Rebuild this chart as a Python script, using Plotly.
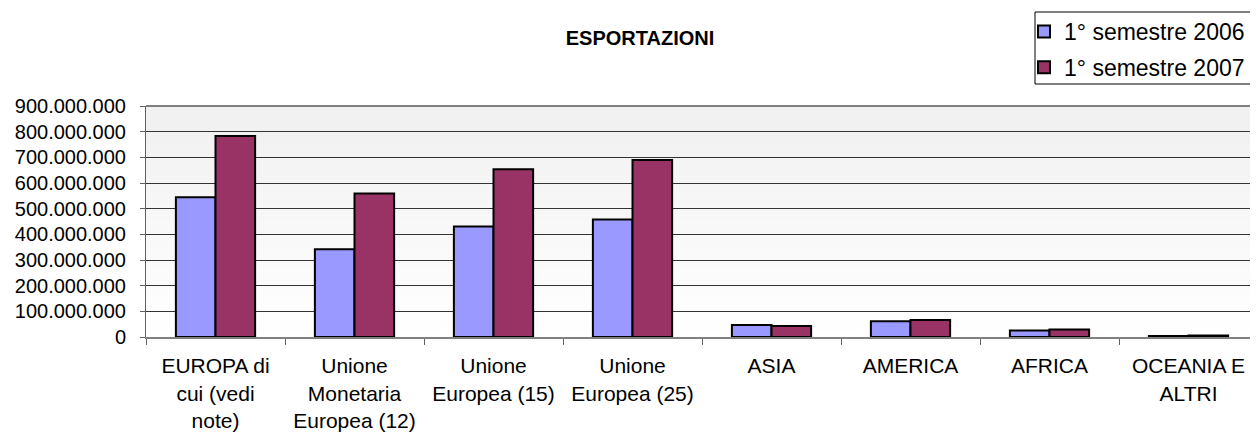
import plotly.graph_objects as go

categories = [
    "EUROPA di<br>cui (vedi<br>note)",
    "Unione<br>Monetaria<br>Europea (12)",
    "Unione<br>Europea (15)",
    "Unione<br>Europea (25)",
    "ASIA",
    "AMERICA",
    "AFRICA",
    "OCEANIA E<br>ALTRI",
]
series_names = ["1° semestre 2006", "1° semestre 2007"]
values_2006 = [544e6, 342e6, 431e6, 458e6, 47e6, 61e6, 25e6, 4e6]
values_2007 = [783e6, 559e6, 654e6, 690e6, 43e6, 66e6, 29e6, 6e6]
y_ticks = list(range(0, 900_000_001, 100_000_000))

FONT = "Arial, Liberation Sans, sans-serif"
colors = ["#9999FF", "#993366"]

# page has an 8px body margin: figure is drawn 8px in from the top-left
W, H = 1250, 425
OFF = 8

fig = go.Figure()
for i, (name, vals) in enumerate(zip(series_names, [values_2006, values_2007])):
    fig.add_trace(go.Bar(
        x=categories, y=vals, name=name,
        marker=dict(color=colors[i], line=dict(color="black", width=2)),
        legendgroup=f"g{i}",
    ))

# gradient plot background (light gray at top fading to white at bottom)
n = 40
shapes = []
for k in range(n):
    y0 = k / n
    y1 = (k + 1) / n
    c = int(round(255 - 15 * ((k + 0.5) / n)))
    shapes.append(dict(type="rect", xref="x domain", yref="y domain",
                       x0=0, x1=1, y0=y0, y1=y1 + 0.001,
                       fillcolor=f"rgb({c},{c},{c})", line=dict(width=0), layer="below"))
shapes.append(dict(type="line", xref="x domain", yref="y domain",
                   x0=0, x1=1, y0=1, y1=1, line=dict(color="#808080", width=2), layer="above"))

plot_l, plot_t, plot_b = 146 - OFF, 106 - OFF, 337 - OFF
plot_w = W - plot_l
plot_h = plot_b - plot_t
def px_x(x):
    return (x - OFF - plot_l) / plot_w
def px_y(y):
    return (plot_b - (y - OFF)) / plot_h
# legend frame
shapes.append(dict(type="rect", xref="paper", yref="paper",
                   x0=px_x(1035), x1=px_x(1300), y0=px_y(84), y1=px_y(12),
                   line=dict(color="black", width=1), fillcolor="white", layer="below"))

fig.update_layout(
    width=W, height=H,
    margin=dict(l=plot_l, r=0, t=plot_t, b=H - plot_b, autoexpand=False),
    paper_bgcolor="white", plot_bgcolor="white",
    font=dict(family=FONT, size=20, color="black"),
    separators=",.",
    barmode="group", bargap=0.43, bargroupgap=0,
    title=dict(text="<b>ESPORTAZIONI</b>", x=(640 - OFF) / W, xref="container", xanchor="center",
               y=1 - (38 - OFF) / H, yref="container", yanchor="middle",
               font=dict(family=FONT, size=20, color="black")),
    legend=dict(x=(1024 - OFF) / W, xref="container", xanchor="left",
                y=1 - (10 - OFF) / H, yref="container", yanchor="top",
                borderwidth=0, bgcolor="rgba(0,0,0,0)",
                font=dict(family=FONT, size=23, color="black"),
                traceorder="grouped", tracegroupgap=3, itemwidth=30),
    shapes=shapes,
    showlegend=True,
)
fig.update_xaxes(
    showline=True, linecolor="#808080", linewidth=2,
    ticks="outside", tickson="boundaries", ticklen=6, tickcolor="#606060",
    tickfont=dict(family=FONT, size=21, color="black"),
    ticklabelstandoff=9, showgrid=False,
)
fig.update_yaxes(
    range=[0, 900_000_000], tickvals=y_ticks, tickformat=",d",
    showline=True, linecolor="#606060", linewidth=1,
    ticks="outside", ticklen=5, tickcolor="#606060",
    showgrid=True, gridcolor="#333333", gridwidth=1,
    zeroline=False,
    tickfont=dict(family=FONT, size=20, color="black"),
    ticklabelstandoff=10,
)

fig.write_html("out.html")
